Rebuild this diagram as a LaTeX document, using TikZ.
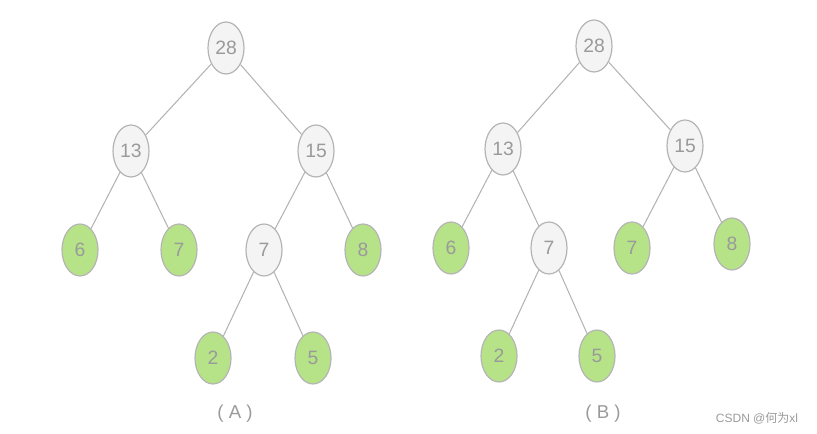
\documentclass[tikz,border=0pt]{standalone}
\usepackage{fontspec}
\setmainfont{Liberation Sans}
\newfontfamily\cjk{Noto Sans CJK SC}
\usetikzlibrary{shapes.geometric}
\definecolor{nodegray}{HTML}{F4F4F4}
\definecolor{leafgreen}{HTML}{B6E388}
\definecolor{rimgray}{HTML}{B4B4B4}
\definecolor{txtgray}{HTML}{9A9A9A}

\tikzset{
  inner/.style={ellipse, draw=rimgray, fill=nodegray, line width=0.9pt,
    minimum width=27pt, minimum height=39pt, inner sep=0pt,
    text=txtgray, font=\fontsize{14.5}{17}\selectfont},
  leaf/.style={inner, fill=leafgreen},
  branch/.style={draw=rimgray, line width=0.8pt},
  caption/.style={text=txtgray, font=\fontsize{14}{17}\selectfont}
}

\begin{document}
\begin{tikzpicture}[x=0.75pt, y=-0.75pt]
  \useasboundingbox (0,0) rectangle (817,434);
  % tree (A)
  \node[inner] (a28) at (226,48) {28};
  \node[inner] (a13) at (131,151) {13};
  \node[inner] (a15) at (316,151) {15};
  \node[leaf]  (a6)  at (80,250)  {6};
  \node[leaf]  (a7l) at (179,250) {7};
  \node[inner] (a7)  at (264,250) {7};
  \node[leaf]  (a8)  at (363,250) {8};
  \node[leaf]  (a2)  at (213,358) {2};
  \node[leaf]  (a5)  at (313,358) {5};
  \node[caption] (capA) at (235,414) {( A )};
  \path[branch]
  (a28) edge (a13) edge (a15)
  (a13) edge (a6) edge (a7l)
  (a15) edge (a7) edge (a8)
  (a7) edge (a2) edge (a5);
  % tree (B)
  \node[inner] (b28) at (594,46)  {28};
  \node[inner] (b13) at (503,149) {13};
  \node[inner] (b15) at (685,146) {15};
  \node[leaf]  (b6)  at (451,248) {6};
  \node[inner] (b7)  at (549,248) {7};
  \node[leaf]  (b7r) at (632,248) {7};
  \node[leaf]  (b8)  at (732,244) {8};
  \node[leaf]  (b2)  at (499,356) {2};
  \node[leaf]  (b5)  at (597,356) {5};
  \node[caption] (capB) at (603,414) {( B )};
  \path[branch]
  (b28) edge (b13) edge (b15)
  (b13) edge (b6) edge (b7)
  (b15) edge (b7r) edge (b8)
  (b7) edge (b2) edge (b5);
  \node[text=txtgray, font=\fontsize{9}{11}\selectfont] (mark) at (757,418) {CSDN @{\cjk 何为}xl};
\end{tikzpicture}
\end{document}
